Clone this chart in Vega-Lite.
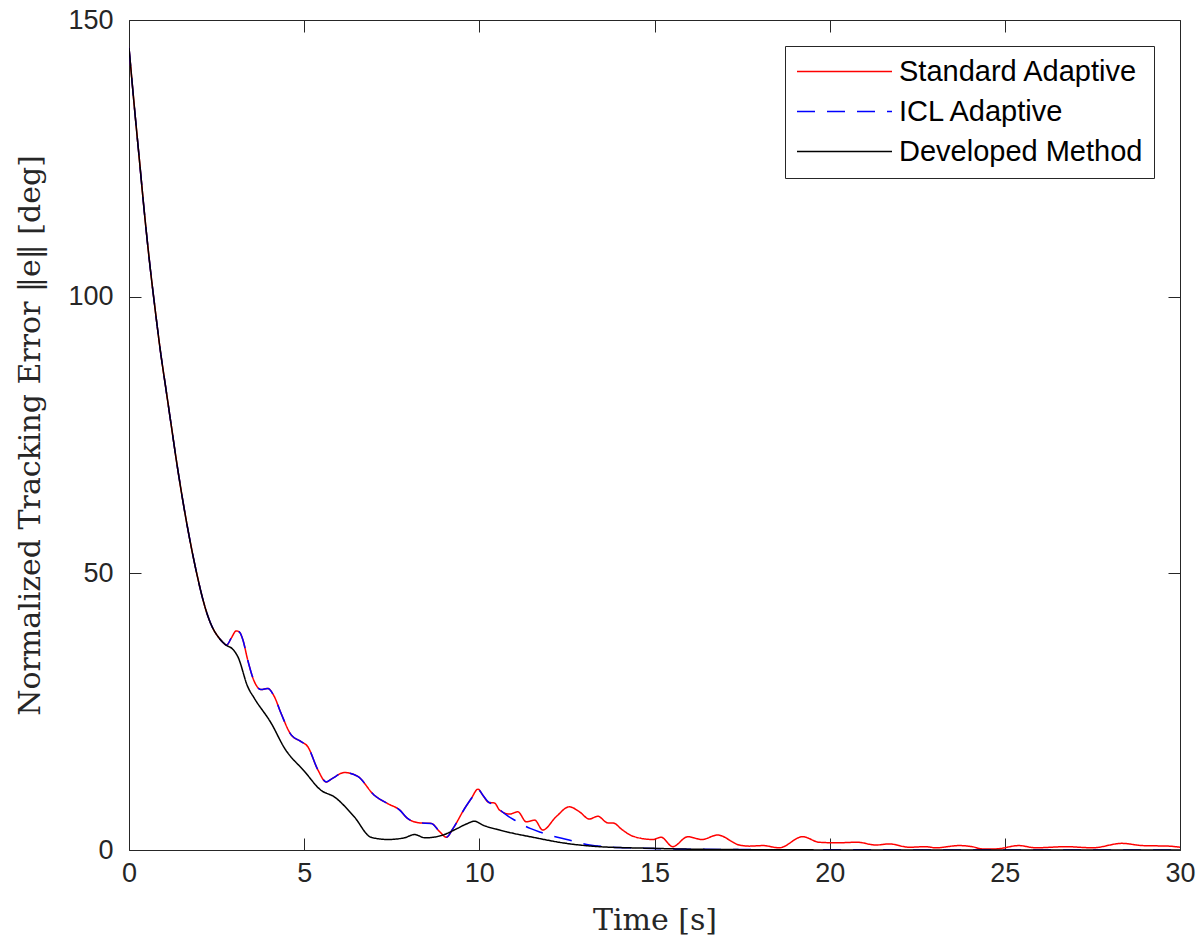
{
  "$schema": "https://vega.github.io/schema/vega-lite/v6.json",
  "width": 1051,
  "height": 830,
  "autosize": {"type": "none"},
  "padding": {"left": 129, "top": 20, "right": 24, "bottom": 99},
  "background": "white",
  "config": {
    "view": {"stroke": "#262626", "strokeWidth": 1},
    "axis": {
      "grid": false,
      "domain": false,
      "labelFont": "Liberation Sans",
      "labelFontSize": 27,
      "labelColor": "#262626",
      "labelFlush": false,
      "labelOverlap": false,
      "tickColor": "#262626",
      "tickWidth": 1,
      "titleFont": "DejaVu Serif",
      "titleFontSize": 30,
      "titleFontWeight": "normal",
      "titleColor": "#262626"
    },
    "legend": {
      "orient": "top-right",
      "offset": 26,
      "strokeColor": "#262626",
      "fillColor": "white",
      "padding": 11,
      "labelFont": "Liberation Sans",
      "labelFontSize": 29,
      "labelColor": "#000000",
      "symbolType": "M-5,0H5",
      "symbolSize": 361,
      "symbolOffset": 34,
      "symbolStrokeWidth": 1.5,
      "rowPadding": 10,
      "labelOffset": 40,
      "cornerRadius": 0,
      "labelLimit": 400
    }
  },
  "datasets": {
    "main": [
      {"t":0,"v":145,"s":"Standard Adaptive"},{"t":0.15,"v":134.5,"s":"Standard Adaptive"},{"t":0.3,"v":124.5,"s":"Standard Adaptive"},{"t":0.45,"v":114.5,"s":"Standard Adaptive"},{"t":0.6,"v":105.5,"s":"Standard Adaptive"},{"t":0.75,"v":97.5,"s":"Standard Adaptive"},{"t":0.9,"v":90,"s":"Standard Adaptive"},{"t":1.05,"v":83.5,"s":"Standard Adaptive"},{"t":1.2,"v":77,"s":"Standard Adaptive"},{"t":1.35,"v":70.5,"s":"Standard Adaptive"},{"t":1.5,"v":64.5,"s":"Standard Adaptive"},{"t":1.65,"v":59,"s":"Standard Adaptive"},{"t":1.8,"v":54,"s":"Standard Adaptive"},{"t":1.95,"v":49.5,"s":"Standard Adaptive"},{"t":2.1,"v":45.5,"s":"Standard Adaptive"},{"t":2.25,"v":42.3,"s":"Standard Adaptive"},{"t":2.4,"v":40,"s":"Standard Adaptive"},{"t":2.55,"v":38.5,"s":"Standard Adaptive"},{"t":2.7,"v":37.4,"s":"Standard Adaptive"},{"t":2.78,"v":37.0,"s":"Standard Adaptive"},
      {"t":2.92,"v":38.3,"s":"Standard Adaptive"},{"t":3.06,"v":39.6,"s":"Standard Adaptive"},{"t":3.15,"v":39.4,"s":"Standard Adaptive"},{"t":3.25,"v":38,"s":"Standard Adaptive"},{"t":3.39,"v":34.3,"s":"Standard Adaptive"},{"t":3.58,"v":30.4,"s":"Standard Adaptive"},{"t":3.77,"v":29.0,"s":"Standard Adaptive"},{"t":3.96,"v":29.2,"s":"Standard Adaptive"},{"t":4.15,"v":27.7,"s":"Standard Adaptive"},{"t":4.34,"v":24.7,"s":"Standard Adaptive"},{"t":4.63,"v":20.8,"s":"Standard Adaptive"},{"t":4.91,"v":19.6,"s":"Standard Adaptive"},{"t":5.1,"v":18.7,"s":"Standard Adaptive"},{"t":5.39,"v":14.5,"s":"Standard Adaptive"},{"t":5.63,"v":12.3,"s":"Standard Adaptive"},{"t":5.82,"v":13.0,"s":"Standard Adaptive"},{"t":6.15,"v":14.0,"s":"Standard Adaptive"},{"t":6.53,"v":13.3,"s":"Standard Adaptive"},{"t":7.0,"v":9.9,"s":"Standard Adaptive"},{"t":7.38,"v":8.4,"s":"Standard Adaptive"},{"t":7.73,"v":7.2,"s":"Standard Adaptive"},{"t":7.95,"v":5.7,"s":"Standard Adaptive"},{"t":8.3,"v":4.9,"s":"Standard Adaptive"},{"t":8.63,"v":4.8,"s":"Standard Adaptive"},{"t":8.87,"v":3.3,"s":"Standard Adaptive"},{"t":9.06,"v":2.3,"s":"Standard Adaptive"},{"t":9.25,"v":3.9,"s":"Standard Adaptive"},{"t":9.58,"v":7.5,"s":"Standard Adaptive"},{"t":9.77,"v":9.3,"s":"Standard Adaptive"},{"t":9.96,"v":11.0,"s":"Standard Adaptive"},{"t":10.1,"v":9.9,"s":"Standard Adaptive"},{"t":10.27,"v":8.6,"s":"Standard Adaptive"},{"t":10.43,"v":8.5,"s":"Standard Adaptive"},{"t":10.58,"v":7.2,"s":"Standard Adaptive"},
      {"t":10.86,"v":6.5,"s":"Standard Adaptive"},{"t":11.1,"v":6.9,"s":"Standard Adaptive"},{"t":11.34,"v":5.1,"s":"Standard Adaptive"},{"t":11.58,"v":5.4,"s":"Standard Adaptive"},{"t":11.81,"v":3.6,"s":"Standard Adaptive"},{"t":12.19,"v":6.0,"s":"Standard Adaptive"},{"t":12.57,"v":7.8,"s":"Standard Adaptive"},{"t":12.86,"v":6.9,"s":"Standard Adaptive"},{"t":13.14,"v":5.6,"s":"Standard Adaptive"},{"t":13.38,"v":6.1,"s":"Standard Adaptive"},{"t":13.67,"v":4.9,"s":"Standard Adaptive"},{"t":13.81,"v":4.9,"s":"Standard Adaptive"},{"t":14.09,"v":3.6,"s":"Standard Adaptive"},{"t":14.38,"v":2.5,"s":"Standard Adaptive"},{"t":14.95,"v":1.9,"s":"Standard Adaptive"},{"t":15.19,"v":2.3,"s":"Standard Adaptive"},{"t":15.52,"v":0.6,"s":"Standard Adaptive"},{"t":15.95,"v":2.4,"s":"Standard Adaptive"},{"t":16.35,"v":1.9,"s":"Standard Adaptive"},{"t":16.8,"v":2.7,"s":"Standard Adaptive"},{"t":17.42,"v":0.9,"s":"Standard Adaptive"},{"t":17.71,"v":0.7,"s":"Standard Adaptive"},{"t":18.09,"v":0.8,"s":"Standard Adaptive"},{"t":18.56,"v":0.4,"s":"Standard Adaptive"},{"t":19.23,"v":2.4,"s":"Standard Adaptive"},{"t":19.7,"v":1.4,"s":"Standard Adaptive"},{"t":20.18,"v":1.3,"s":"Standard Adaptive"},{"t":20.79,"v":1.4,"s":"Standard Adaptive"},{"t":21.32,"v":0.9,"s":"Standard Adaptive"},{"t":21.7,"v":1.1,"s":"Standard Adaptive"},{"t":22.27,"v":0.5,"s":"Standard Adaptive"},{"t":22.74,"v":0.6,"s":"Standard Adaptive"},{"t":23.03,"v":0.4,"s":"Standard Adaptive"},{"t":23.69,"v":0.8,"s":"Standard Adaptive"},{"t":24.07,"v":0.6,"s":"Standard Adaptive"},{"t":24.36,"v":0.2,"s":"Standard Adaptive"},{"t":24.74,"v":0.2,"s":"Standard Adaptive"},{"t":25.4,"v":0.8,"s":"Standard Adaptive"},{"t":25.88,"v":0.4,"s":"Standard Adaptive"},{"t":26.74,"v":0.6,"s":"Standard Adaptive"},{"t":27.5,"v":0.4,"s":"Standard Adaptive"},{"t":28.35,"v":1.2,"s":"Standard Adaptive"},{"t":28.92,"v":0.8,"s":"Standard Adaptive"},{"t":29.68,"v":0.7,"s":"Standard Adaptive"},{"t":30,"v":0.5,"s":"Standard Adaptive"},

      {"t":0,"v":145,"s":"ICL Adaptive"},{"t":0.15,"v":134.5,"s":"ICL Adaptive"},{"t":0.3,"v":124.5,"s":"ICL Adaptive"},{"t":0.45,"v":114.5,"s":"ICL Adaptive"},{"t":0.6,"v":105.5,"s":"ICL Adaptive"},{"t":0.75,"v":97.5,"s":"ICL Adaptive"},{"t":0.9,"v":90,"s":"ICL Adaptive"},{"t":1.05,"v":83.5,"s":"ICL Adaptive"},{"t":1.2,"v":77,"s":"ICL Adaptive"},{"t":1.35,"v":70.5,"s":"ICL Adaptive"},{"t":1.5,"v":64.5,"s":"ICL Adaptive"},{"t":1.65,"v":59,"s":"ICL Adaptive"},{"t":1.8,"v":54,"s":"ICL Adaptive"},{"t":1.95,"v":49.5,"s":"ICL Adaptive"},{"t":2.1,"v":45.5,"s":"ICL Adaptive"},{"t":2.25,"v":42.3,"s":"ICL Adaptive"},{"t":2.4,"v":40,"s":"ICL Adaptive"},{"t":2.55,"v":38.5,"s":"ICL Adaptive"},{"t":2.7,"v":37.4,"s":"ICL Adaptive"},{"t":2.78,"v":37.0,"s":"ICL Adaptive"},
      {"t":2.92,"v":38.3,"s":"ICL Adaptive"},{"t":3.06,"v":39.6,"s":"ICL Adaptive"},{"t":3.15,"v":39.4,"s":"ICL Adaptive"},{"t":3.25,"v":38,"s":"ICL Adaptive"},{"t":3.39,"v":34.3,"s":"ICL Adaptive"},{"t":3.58,"v":30.4,"s":"ICL Adaptive"},{"t":3.77,"v":29.0,"s":"ICL Adaptive"},{"t":3.96,"v":29.2,"s":"ICL Adaptive"},{"t":4.15,"v":27.7,"s":"ICL Adaptive"},{"t":4.34,"v":24.7,"s":"ICL Adaptive"},{"t":4.63,"v":20.8,"s":"ICL Adaptive"},{"t":4.91,"v":19.6,"s":"ICL Adaptive"},{"t":5.1,"v":18.7,"s":"ICL Adaptive"},{"t":5.39,"v":14.5,"s":"ICL Adaptive"},{"t":5.63,"v":12.3,"s":"ICL Adaptive"},{"t":5.82,"v":13.0,"s":"ICL Adaptive"},{"t":6.15,"v":14.0,"s":"ICL Adaptive"},{"t":6.53,"v":13.3,"s":"ICL Adaptive"},{"t":7.0,"v":9.9,"s":"ICL Adaptive"},{"t":7.38,"v":8.4,"s":"ICL Adaptive"},{"t":7.73,"v":7.2,"s":"ICL Adaptive"},{"t":7.95,"v":5.7,"s":"ICL Adaptive"},{"t":8.3,"v":4.9,"s":"ICL Adaptive"},{"t":8.63,"v":4.8,"s":"ICL Adaptive"},{"t":8.87,"v":3.3,"s":"ICL Adaptive"},{"t":9.06,"v":2.3,"s":"ICL Adaptive"},{"t":9.25,"v":3.9,"s":"ICL Adaptive"},{"t":9.58,"v":7.5,"s":"ICL Adaptive"},{"t":9.77,"v":9.3,"s":"ICL Adaptive"},{"t":9.96,"v":11.0,"s":"ICL Adaptive"},{"t":10.1,"v":9.9,"s":"ICL Adaptive"},{"t":10.27,"v":8.6,"s":"ICL Adaptive"},{"t":10.43,"v":8.2,"s":"ICL Adaptive"},{"t":10.6,"v":7.2,"s":"ICL Adaptive"},
      {"t":10.8,"v":6.2,"s":"ICL Adaptive"},{"t":11.06,"v":5.2,"s":"ICL Adaptive"},{"t":11.25,"v":4.5,"s":"ICL Adaptive"},{"t":11.45,"v":3.9,"s":"ICL Adaptive"},{"t":11.75,"v":3.2,"s":"ICL Adaptive"},{"t":12.05,"v":2.6,"s":"ICL Adaptive"},{"t":12.5,"v":1.9,"s":"ICL Adaptive"},{"t":13.15,"v":0.9,"s":"ICL Adaptive"},{"t":13.6,"v":0.6,"s":"ICL Adaptive"},{"t":14.5,"v":0.35,"s":"ICL Adaptive"},{"t":15.5,"v":0.2,"s":"ICL Adaptive"},{"t":17,"v":0.1,"s":"ICL Adaptive"},{"t":20,"v":0.04,"s":"ICL Adaptive"},{"t":25,"v":0.01,"s":"ICL Adaptive"},{"t":30,"v":0,"s":"ICL Adaptive"},

      {"t":0,"v":145,"s":"Developed Method"},{"t":0.15,"v":134.5,"s":"Developed Method"},{"t":0.3,"v":124.5,"s":"Developed Method"},{"t":0.45,"v":114.5,"s":"Developed Method"},{"t":0.6,"v":105.5,"s":"Developed Method"},{"t":0.75,"v":97.5,"s":"Developed Method"},{"t":0.9,"v":90,"s":"Developed Method"},{"t":1.05,"v":83.5,"s":"Developed Method"},{"t":1.2,"v":77,"s":"Developed Method"},{"t":1.35,"v":70.5,"s":"Developed Method"},{"t":1.5,"v":64.5,"s":"Developed Method"},{"t":1.65,"v":59,"s":"Developed Method"},{"t":1.8,"v":54,"s":"Developed Method"},{"t":1.95,"v":49.5,"s":"Developed Method"},{"t":2.1,"v":45.5,"s":"Developed Method"},{"t":2.25,"v":42.3,"s":"Developed Method"},{"t":2.4,"v":40,"s":"Developed Method"},{"t":2.55,"v":38.5,"s":"Developed Method"},{"t":2.7,"v":37.4,"s":"Developed Method"},{"t":2.78,"v":37.0,"s":"Developed Method"},
      {"t":2.96,"v":36.3,"s":"Developed Method"},{"t":3.11,"v":34.9,"s":"Developed Method"},{"t":3.39,"v":29.5,"s":"Developed Method"},{"t":3.58,"v":27.4,"s":"Developed Method"},{"t":4.06,"v":22.9,"s":"Developed Method"},{"t":4.44,"v":18.4,"s":"Developed Method"},{"t":5.01,"v":14.2,"s":"Developed Method"},{"t":5.48,"v":10.8,"s":"Developed Method"},{"t":5.86,"v":9.6,"s":"Developed Method"},{"t":6.43,"v":6.0,"s":"Developed Method"},{"t":6.91,"v":2.3,"s":"Developed Method"},{"t":7.38,"v":1.9,"s":"Developed Method"},{"t":7.86,"v":2.2,"s":"Developed Method"},{"t":8.15,"v":2.8,"s":"Developed Method"},{"t":8.45,"v":2.2,"s":"Developed Method"},{"t":8.96,"v":2.7,"s":"Developed Method"},{"t":9.34,"v":3.8,"s":"Developed Method"},{"t":9.63,"v":4.7,"s":"Developed Method"},{"t":9.86,"v":5.2,"s":"Developed Method"},{"t":10.1,"v":4.5,"s":"Developed Method"},{"t":10.58,"v":3.6,"s":"Developed Method"},{"t":11.53,"v":2.3,"s":"Developed Method"},{"t":12.48,"v":1.2,"s":"Developed Method"},{"t":13.43,"v":0.6,"s":"Developed Method"},{"t":14.95,"v":0.3,"s":"Developed Method"},{"t":16,"v":0.15,"s":"Developed Method"},{"t":18,"v":0.05,"s":"Developed Method"},{"t":20,"v":0.02,"s":"Developed Method"},{"t":25,"v":0.01,"s":"Developed Method"},{"t":30,"v":0,"s":"Developed Method"}
    ]
  },
  "data": {"name": "main"},
  "encoding": {
    "color": {
      "field": "s", "type": "nominal",
      "scale": {"domain": ["Standard Adaptive", "ICL Adaptive", "Developed Method"], "range": ["#ff0000", "#0000ff", "#000000"]},
      "legend": {"title": null}
    },
    "strokeDash": {
      "field": "s", "type": "nominal",
      "scale": {"domain": ["Standard Adaptive", "ICL Adaptive", "Developed Method"], "range": [[1, 0], [18, 12], [1, 0]]},
      "legend": {"title": null}
    }
  },
  "layer": [
    {
      "transform": [{"filter": "datum.s === 'Standard Adaptive'"}],
      "mark": {"type": "line", "strokeWidth": 1.5, "interpolate": "monotone", "clip": true},
      "encoding": {
        "x": {"field": "t", "type": "quantitative", "scale": {"domain": [0, 30], "nice": false},
          "axis": {"orient": "bottom", "values": [0, 5, 10, 15, 20, 25, 30], "ticks": false, "labelPadding": 10, "title": "Time [s]", "titlePadding": 19}},
        "y": {"field": "v", "type": "quantitative", "scale": {"domain": [0, 150], "nice": false},
          "axis": {"orient": "left", "values": [0, 50, 100, 150], "ticks": false, "labelPadding": 16, "title": "Normalized Tracking Error ‖e‖ [deg]", "titlePadding": 22}}
      }
    },
    {
      "transform": [{"filter": "datum.s === 'ICL Adaptive'"}],
      "mark": {"type": "line", "strokeWidth": 1.5, "interpolate": "monotone", "clip": true},
      "encoding": {
        "x": {"field": "t", "type": "quantitative", "scale": {"domain": [0, 30], "nice": false},
          "axis": {"orient": "bottom", "offset": -12, "tickSize": 12, "values": [0, 5, 10, 15, 20, 25, 30], "labels": false, "title": null}},
        "y": {"field": "v", "type": "quantitative", "scale": {"domain": [0, 150], "nice": false},
          "axis": {"orient": "left", "offset": -12, "tickSize": 12, "values": [0, 50, 100, 150], "labels": false, "title": null}}
      }
    },
    {
      "transform": [{"filter": "datum.s === 'Developed Method'"}],
      "mark": {"type": "line", "strokeWidth": 1.5, "interpolate": "monotone", "clip": true},
      "encoding": {
        "x": {"field": "t", "type": "quantitative", "scale": {"domain": [0, 30], "nice": false},
          "axis": {"orient": "top", "offset": -12, "tickSize": 12, "values": [0, 5, 10, 15, 20, 25, 30], "labels": false, "title": null}},
        "y": {"field": "v", "type": "quantitative", "scale": {"domain": [0, 150], "nice": false},
          "axis": {"orient": "right", "offset": -12, "tickSize": 12, "values": [0, 50, 100, 150], "labels": false, "title": null}}
      }
    }
  ],
  "resolve": {"axis": {"x": "independent", "y": "independent"}}
}
